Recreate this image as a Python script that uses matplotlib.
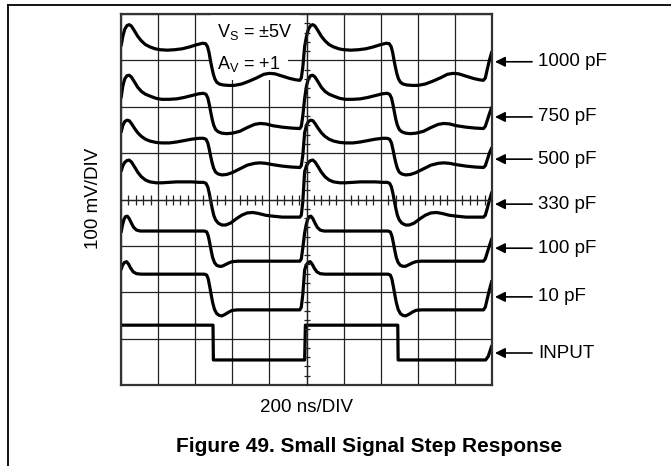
import matplotlib
matplotlib.use("Agg")
import matplotlib.pyplot as plt
from matplotlib.lines import Line2D
from matplotlib.ticker import MultipleLocator, NullFormatter

plt.rcParams['font.family'] = ['Liberation Sans', 'DejaVu Sans']

# ---- data (x in divisions of 200 ns, y in divisions of 100 mV) ----
x_1000 = [0.00, 0.05, 0.10, 0.16, 0.22, 0.28, 0.36, 0.45, 0.55, 0.66, 0.78, 0.92, 1.05, 1.25, 1.45, 1.65, 1.85, 2.05, 2.20, 2.28,
          2.33, 2.37, 2.41, 2.45, 2.49, 2.53, 2.58, 2.65, 2.75, 2.90, 3.05, 3.25, 3.45, 3.65, 3.85, 4.00, 4.15, 4.35, 4.55, 4.72,
          4.82, 4.86, 4.90,
          4.95, 5.00, 5.05, 5.11, 5.17, 5.23, 5.31, 5.40, 5.50, 5.61, 5.73, 5.87, 6.00, 6.20, 6.40, 6.60, 6.80, 7.00, 7.15, 7.23,
          7.28, 7.32, 7.36, 7.40, 7.44, 7.48, 7.53, 7.60, 7.70, 7.85, 8.00, 8.20, 8.40, 8.60, 8.80, 8.95, 9.10, 9.30, 9.50, 9.67,
          9.77, 9.82, 9.87, 9.93, 10.00]
y_1000 = [7.30, 7.52, 7.67, 7.75, 7.77, 7.74, 7.64, 7.52, 7.42, 7.34, 7.29, 7.25, 7.23, 7.22, 7.23, 7.25, 7.29, 7.34, 7.37, 7.36,
          7.30, 7.18, 7.00, 6.84, 6.70, 6.60, 6.53, 6.49, 6.47, 6.46, 6.46, 6.49, 6.55, 6.62, 6.70, 6.72, 6.71, 6.66, 6.61, 6.58,
          6.57, 6.62, 6.85,
          7.30, 7.52, 7.67, 7.75, 7.77, 7.74, 7.64, 7.52, 7.42, 7.34, 7.29, 7.25, 7.23, 7.22, 7.23, 7.25, 7.29, 7.34, 7.37, 7.36,
          7.30, 7.18, 7.00, 6.84, 6.70, 6.60, 6.53, 6.49, 6.47, 6.46, 6.46, 6.49, 6.55, 6.62, 6.70, 6.72, 6.71, 6.66, 6.61, 6.58,
          6.57, 6.62, 6.80, 7.00, 7.20]

x_750 = [0.00, 0.05, 0.10, 0.16, 0.22, 0.28, 0.36, 0.45, 0.55, 0.66, 0.78, 0.95, 1.10, 1.30, 1.50, 1.70, 1.90, 2.10, 2.22, 2.29,
         2.34, 2.38, 2.42, 2.46, 2.50, 2.55, 2.62, 2.72, 2.85, 3.00, 3.20, 3.40, 3.60, 3.75, 3.90, 4.10, 4.35, 4.60, 4.82, 4.86,
         4.90,
         4.95, 5.00, 5.05, 5.11, 5.17, 5.23, 5.31, 5.40, 5.50, 5.61, 5.73, 5.90, 6.05, 6.25, 6.45, 6.65, 6.85, 7.05, 7.17, 7.24,
         7.29, 7.33, 7.37, 7.41, 7.45, 7.50, 7.57, 7.67, 7.80, 7.95, 8.15, 8.35, 8.55, 8.70, 8.85, 9.05, 9.30, 9.55, 9.77, 9.82,
         9.87, 9.93, 10.00]
y_750 = [6.18, 6.45, 6.60, 6.67, 6.68, 6.64, 6.54, 6.42, 6.33, 6.27, 6.23, 6.18, 6.16, 6.16, 6.17, 6.20, 6.24, 6.28, 6.29, 6.27,
         6.19, 6.05, 5.88, 5.72, 5.60, 5.51, 5.46, 5.43, 5.42, 5.43, 5.47, 5.55, 5.62, 5.64, 5.63, 5.59, 5.56, 5.54, 5.53, 5.58,
         5.80,
         6.18, 6.45, 6.60, 6.67, 6.68, 6.64, 6.54, 6.42, 6.33, 6.27, 6.23, 6.18, 6.16, 6.16, 6.17, 6.20, 6.24, 6.28, 6.29, 6.27,
         6.19, 6.05, 5.88, 5.72, 5.60, 5.51, 5.46, 5.43, 5.42, 5.43, 5.47, 5.55, 5.62, 5.64, 5.63, 5.59, 5.56, 5.54, 5.53, 5.58,
         5.70, 5.85, 6.00]

x_500 = [0.00, 0.05, 0.10, 0.16, 0.22, 0.28, 0.36, 0.45, 0.55, 0.66, 0.78, 0.95, 1.10, 1.30, 1.50, 1.70, 1.90, 2.10, 2.22, 2.29,
         2.34, 2.38, 2.42, 2.46, 2.50, 2.55, 2.62, 2.72, 2.85, 3.00, 3.20, 3.40, 3.60, 3.75, 3.90, 4.10, 4.35, 4.60, 4.82, 4.86,
         4.90,
         4.95, 5.00, 5.05, 5.11, 5.17, 5.23, 5.31, 5.40, 5.50, 5.61, 5.73, 5.90, 6.05, 6.25, 6.45, 6.65, 6.85, 7.05, 7.17, 7.24,
         7.29, 7.33, 7.37, 7.41, 7.45, 7.50, 7.57, 7.67, 7.80, 7.95, 8.15, 8.35, 8.55, 8.70, 8.85, 9.05, 9.30, 9.55, 9.77, 9.82,
         9.87, 9.93, 10.00]
y_500 = [5.44, 5.60, 5.68, 5.71, 5.70, 5.64, 5.54, 5.44, 5.36, 5.30, 5.26, 5.23, 5.22, 5.22, 5.24, 5.27, 5.30, 5.32, 5.32, 5.30,
         5.22, 5.08, 4.92, 4.78, 4.67, 4.59, 4.55, 4.53, 4.54, 4.58, 4.66, 4.74, 4.78, 4.79, 4.78, 4.75, 4.72, 4.70, 4.69, 4.73,
         4.95,
         5.44, 5.60, 5.68, 5.71, 5.70, 5.64, 5.54, 5.44, 5.36, 5.30, 5.26, 5.23, 5.22, 5.22, 5.24, 5.27, 5.30, 5.32, 5.32, 5.30,
         5.22, 5.08, 4.92, 4.78, 4.67, 4.59, 4.55, 4.53, 4.54, 4.58, 4.66, 4.74, 4.78, 4.79, 4.78, 4.75, 4.72, 4.70, 4.69, 4.73,
         4.85, 5.00, 5.13]

x_330 = [0.00, 0.05, 0.10, 0.16, 0.22, 0.28, 0.36, 0.45, 0.55, 0.66, 0.78, 0.95, 1.10, 1.30, 1.50, 1.70, 1.90, 2.10, 2.22, 2.29,
         2.34, 2.38, 2.42, 2.46, 2.50, 2.55, 2.62, 2.72, 2.82, 2.95, 3.10, 3.25, 3.40, 3.55, 3.70, 3.90, 4.10, 4.35, 4.60, 4.82,
         4.86, 4.90,
         4.95, 5.00, 5.05, 5.11, 5.17, 5.23, 5.31, 5.40, 5.50, 5.61, 5.73, 5.90, 6.05, 6.25, 6.45, 6.65, 6.85, 7.05, 7.17, 7.24,
         7.29, 7.33, 7.37, 7.41, 7.45, 7.50, 7.57, 7.67, 7.77, 7.90, 8.05, 8.20, 8.35, 8.50, 8.65, 8.85, 9.05, 9.30, 9.55, 9.77,
         9.82, 9.87, 9.93, 10.00]
y_330 = [4.60, 4.73, 4.80, 4.84, 4.85, 4.81, 4.71, 4.59, 4.49, 4.42, 4.38, 4.36, 4.36, 4.37, 4.38, 4.38, 4.38, 4.37, 4.37, 4.35,
         4.27, 4.13, 3.96, 3.80, 3.66, 3.56, 3.49, 3.45, 3.45, 3.49, 3.58, 3.66, 3.71, 3.72, 3.70, 3.66, 3.64, 3.62, 3.62, 3.62,
         3.66, 3.95,
         4.60, 4.73, 4.80, 4.84, 4.85, 4.81, 4.71, 4.59, 4.49, 4.42, 4.38, 4.36, 4.36, 4.37, 4.38, 4.38, 4.38, 4.37, 4.37, 4.35,
         4.27, 4.13, 3.96, 3.80, 3.66, 3.56, 3.49, 3.45, 3.45, 3.49, 3.58, 3.66, 3.71, 3.72, 3.70, 3.66, 3.64, 3.62, 3.62, 3.62,
         3.66, 3.80, 3.98, 4.17]

x_100 = [0.00, 0.04, 0.08, 0.12, 0.17, 0.22, 0.28, 0.34, 0.42, 0.52, 0.70, 1.20, 1.80, 2.25, 2.31, 2.35, 2.39, 2.43, 2.47, 2.52,
         2.58, 2.65, 2.72, 2.80, 2.90, 3.00, 3.15, 3.60, 4.20, 4.82, 4.86, 4.90,
         4.95, 4.99, 5.03, 5.07, 5.12, 5.17, 5.23, 5.29, 5.37, 5.47, 5.65, 6.15, 6.75, 7.20, 7.26, 7.30, 7.34, 7.38, 7.42, 7.47,
         7.53, 7.60, 7.67, 7.75, 7.85, 7.95, 8.10, 8.55, 9.15, 9.77, 9.82, 9.87, 9.93, 10.00]
y_100 = [3.28, 3.45, 3.57, 3.63, 3.64, 3.59, 3.49, 3.40, 3.34, 3.32, 3.32, 3.32, 3.32, 3.32, 3.30, 3.22, 3.07, 2.90, 2.75, 2.64,
         2.58, 2.56, 2.56, 2.59, 2.63, 2.66, 2.67, 2.67, 2.67, 2.67, 2.72, 2.95,
         3.28, 3.45, 3.57, 3.63, 3.64, 3.59, 3.49, 3.40, 3.34, 3.32, 3.32, 3.32, 3.32, 3.32, 3.30, 3.22, 3.07, 2.90, 2.75, 2.64,
         2.58, 2.56, 2.56, 2.59, 2.63, 2.66, 2.67, 2.67, 2.67, 2.67, 2.72, 2.85, 3.00, 3.17]

x_10 = [0.00, 0.04, 0.09, 0.15, 0.20, 0.26, 0.33, 0.42, 0.55, 1.20, 1.80, 2.25, 2.31, 2.35, 2.39, 2.43, 2.47, 2.52, 2.58, 2.65,
        2.72, 2.80, 2.90, 3.00, 3.15, 3.60, 4.20, 4.82, 4.86, 4.90,
        4.95, 4.99, 5.04, 5.10, 5.15, 5.21, 5.28, 5.37, 5.50, 6.15, 6.75, 7.20, 7.26, 7.30, 7.34, 7.38, 7.42, 7.47, 7.53, 7.60,
        7.67, 7.75, 7.85, 7.95, 8.10, 8.55, 9.15, 9.77, 9.82, 9.87, 9.93, 10.00]
y_10 = [2.48, 2.58, 2.64, 2.66, 2.61, 2.52, 2.44, 2.40, 2.39, 2.39, 2.39, 2.39, 2.37, 2.29, 2.13, 1.95, 1.78, 1.63, 1.54, 1.50,
        1.49, 1.52, 1.57, 1.61, 1.62, 1.62, 1.62, 1.62, 1.68, 1.95,
        2.48, 2.58, 2.64, 2.66, 2.61, 2.52, 2.44, 2.40, 2.39, 2.39, 2.39, 2.39, 2.37, 2.29, 2.13, 1.95, 1.78, 1.63, 1.54, 1.50,
        1.49, 1.52, 1.57, 1.61, 1.62, 1.62, 1.62, 1.62, 1.68, 1.85, 2.05, 2.26]

x_in = [0.0, 2.48, 2.49, 4.95, 4.97, 7.46, 7.47, 9.83, 9.9, 10.0]
y_in = [1.29, 1.29, 0.54, 0.54, 1.29, 1.29, 0.54, 0.54, 0.62, 0.86]

traces = [(x_1000, y_1000), (x_750, y_750), (x_500, y_500), (x_330, y_330),
          (x_100, y_100), (x_10, y_10), (x_in, y_in)]
labels = ["1000 pF", "750 pF", "500 pF", "330 pF", "100 pF", "10 pF", "INPUT"]
label_y = [6.97, 5.78, 4.87, 3.90, 2.95, 1.90, 0.69]

# ---- figure ----
W, H = 671, 466
fig = plt.figure(figsize=(W / 100, H / 100), dpi=100)
L, R, T, B = 121, 492, 14, 385
rect = [L / W, 1 - B / H, (R - L) / W, (B - T) / H]
ax = fig.add_axes(rect)
ax.set_xlim(0, 10)
ax.set_ylim(0, 8)
ax.xaxis.set_major_locator(MultipleLocator(1))
ax.yaxis.set_major_locator(MultipleLocator(1))
ax.tick_params(which='both', length=0, labelbottom=False, labelleft=False)
ax.grid(True, which='major', color='#222222', lw=0.9)
for s in ax.spines.values():
    s.set_linewidth(1.6)
    s.set_color('#333333')
    s.set_zorder(5)

# center lines with minor ticks
ax2 = fig.add_axes(rect)
ax2.set_xlim(0, 10)
ax2.set_ylim(0, 8)
ax2.patch.set_visible(False)
ax2.spines['left'].set_position(('data', 5))
ax2.spines['bottom'].set_position(('data', 4))
ax2.spines['right'].set_visible(False)
ax2.spines['top'].set_visible(False)
for k in ('left', 'bottom'):
    ax2.spines[k].set_linewidth(0.9)
    ax2.spines[k].set_color('#222222')
ax2.xaxis.set_major_locator(MultipleLocator(1))
ax2.yaxis.set_major_locator(MultipleLocator(1))
ax2.xaxis.set_minor_locator(MultipleLocator(0.2))
ax2.yaxis.set_minor_locator(MultipleLocator(0.2))
ax2.xaxis.set_minor_formatter(NullFormatter())
ax2.yaxis.set_minor_formatter(NullFormatter())
ax2.tick_params(which='both', direction='inout', labelbottom=False, labelleft=False)
ax2.tick_params(which='major', length=0)
ax2.tick_params(axis='x', which='minor', length=7, width=0.9, color='#222222')
ax2.tick_params(axis='y', which='minor', length=5, width=0.9, color='#222222')

for xs, ys in traces:
    ax.plot(xs, ys, color='black', lw=2.3, solid_joinstyle='round',
            solid_capstyle='butt', zorder=4, clip_on=True)

# annotation text inside the screen
ax.text(2.6, 7.62, r"V$_\mathregular{S}$ = ±5V", fontsize=13, ha='left', va='center', zorder=3,
        bbox=dict(facecolor='white', edgecolor='none', pad=5))
ax.text(2.6, 6.93, r"A$_\mathregular{V}$ = +1", fontsize=13, ha='left', va='center', zorder=3,
        bbox=dict(facecolor='white', edgecolor='none', pad=5))

for lab, yv in zip(labels, label_y):
    ax.annotate('', xy=(10.08, yv), xytext=(11.08, yv), annotation_clip=False,
                arrowprops=dict(arrowstyle='-|>', color='black', lw=1.2, mutation_scale=15,
                                shrinkA=0, shrinkB=0))
    ax.text(11.24, yv, lab, fontsize=13.5, ha='left', va='center', clip_on=False)

fig.text(93 / W, 1 - 198 / H, "100 mV/DIV", rotation=90, fontsize=13.5, ha='center', va='center')
fig.text(307 / W, 1 - 407 / H, "200 ns/DIV", fontsize=13.5, ha='center', va='center')
fig.text(176 / W, 1 - 446 / H, "Figure 49. Small Signal Step Response", fontsize=15,
         fontweight='bold', ha='left', va='center')

fig.add_artist(Line2D([8 / W, 1], [1 - 5 / H, 1 - 5 / H], color='black', lw=1.3))
fig.add_artist(Line2D([8 / W, 8 / W], [0, 1 - 5 / H], color='black', lw=1.3))

fig.savefig("out.png", dpi=100)
